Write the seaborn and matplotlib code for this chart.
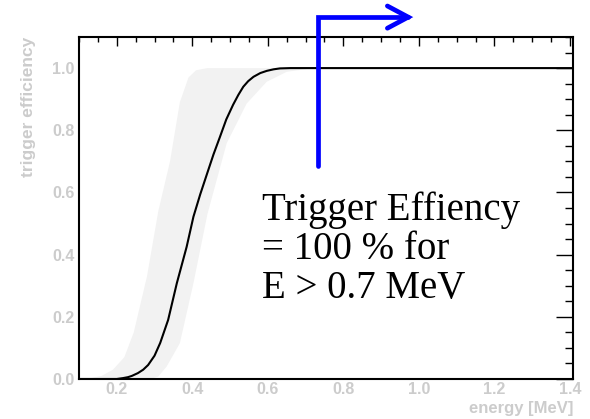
import matplotlib
matplotlib.use("Agg")
import matplotlib.pyplot as plt
from matplotlib.ticker import MultipleLocator
import seaborn as sns
import pandas as pd

# Measured trigger efficiency versus deposited energy
energy = [0.10, 0.20, 0.217, 0.23, 0.24, 0.256, 0.27, 0.283, 0.30, 0.315, 0.336,
          0.359, 0.385, 0.403, 0.421, 0.439, 0.456, 0.473, 0.49, 0.508, 0.522,
          0.535, 0.548, 0.562, 0.58, 0.597, 0.615, 0.632, 0.66, 0.70, 1.41]
efficiency = [0.0, 0.0, 0.003, 0.006, 0.010, 0.019, 0.030, 0.045, 0.075, 0.116,
              0.19, 0.308, 0.425, 0.522, 0.594, 0.66, 0.722, 0.778, 0.835, 0.882,
              0.914, 0.94, 0.958, 0.972, 0.984, 0.991, 0.996, 0.999, 1.0, 1.0, 1.0]

# Uncertainty band: upper (early-rising) and lower (late-rising) edges
band_hi_energy = [0.12, 0.16, 0.19, 0.22, 0.245, 0.28, 0.31, 0.341, 0.367, 0.39, 0.41, 0.44]
band_hi_eff = [0.0, 0.01, 0.03, 0.07, 0.15, 0.33, 0.54, 0.70, 0.89, 0.97, 0.993, 1.0]
band_lo_energy = [0.29, 0.31, 0.332, 0.367, 0.403, 0.44, 0.491, 0.544, 0.597, 0.65, 0.72]
band_lo_eff = [0.0, 0.008, 0.04, 0.115, 0.308, 0.53, 0.758, 0.886, 0.956, 0.988, 1.0]

x_ticks = [0.2, 0.4, 0.6, 0.8, 1.0, 1.2, 1.4]
y_ticks = [0.0, 0.2, 0.4, 0.6, 0.8, 1.0]
x_title = "energy [MeV]"
y_title = "trigger efficiency"
note_lines = ["Trigger Effiency", "= 100 % for", "E > 0.7 MeV"]

sns.set_style("white")
plt.rcParams["font.family"] = ["Liberation Sans", "DejaVu Sans"]

fig = plt.figure(figsize=(5.90, 4.19), dpi=100)
ax = fig.add_axes([79 / 590, 1 - 379 / 419, 494 / 590, 342 / 419])

# shaded band
poly_x = band_hi_energy + band_lo_energy[::-1]
poly_y = band_hi_eff + band_lo_eff[::-1]
ax.fill(poly_x, poly_y, color="#f2f2f2", lw=0, zorder=1)

df = pd.DataFrame({"energy": energy, "efficiency": efficiency})
sns.lineplot(data=df, x="energy", y="efficiency", color="black", lw=1.5,
             sort=False, ax=ax, zorder=3)

ax.set_xlim(0.1, 1.408)
ax.set_ylim(0.0, 1.1)

ax.xaxis.set_major_locator(MultipleLocator(0.2))
ax.xaxis.set_minor_locator(MultipleLocator(0.05))
ax.yaxis.set_major_locator(MultipleLocator(0.2))
ax.yaxis.set_minor_locator(MultipleLocator(0.05))
ax.set_xticks(x_ticks)
ax.set_yticks(y_ticks)
ax.set_xticklabels([f"{v:.1f}" for v in x_ticks])
ax.set_yticklabels([f"{v:.1f}" for v in y_ticks])

label_color = "#cccccc"
ax.tick_params(axis="both", which="both", direction="in", top=True, right=True,
               colors="black", labelcolor=label_color, width=1.0)
ax.tick_params(axis="x", which="major", length=6.5, pad=2)
ax.tick_params(axis="x", which="minor", length=3.6)
ax.tick_params(axis="y", which="major", length=12.2, pad=3)
ax.tick_params(axis="y", which="minor", length=5.8)
for lab in ax.get_xticklabels() + ax.get_yticklabels():
    lab.set_fontweight("bold")
    lab.set_fontsize(11.5)

for sp in ax.spines.values():
    sp.set_visible(True)
    sp.set_linewidth(1.5)
    sp.set_color("black")

ax.set_xlabel(x_title, fontsize=12, fontweight="bold", color=label_color,
              loc="right", va="top")
ax.xaxis.set_label_coords(1.0, -0.064)
ax.set_ylabel(y_title, fontsize=12.5, fontweight="bold", color=label_color,
              loc="top")
ax.yaxis.set_label_coords(-0.087, 1.0)

# annotation text
for i, line in enumerate(note_lines):
    ax.text(0.585, 0.511 - i * 0.1245, line, family="Liberation Serif",
            fontsize=28, color="black", va="baseline", ha="left", zorder=5)

# blue bent arrow pointing to higher energies
ax.annotate("", xy=(0.985, 1.164), xytext=(0.733, 0.685),
            xycoords="data", textcoords="data", annotation_clip=False,
            arrowprops=dict(arrowstyle="->,head_length=1.5,head_width=0.8",
                            connectionstyle="angle,angleA=90,angleB=0,rad=0",
                            color="#0000ff", lw=3.4, shrinkA=0, shrinkB=0,
                            joinstyle="miter", mutation_scale=10))

fig.savefig("out.png", dpi=100, facecolor="white")
